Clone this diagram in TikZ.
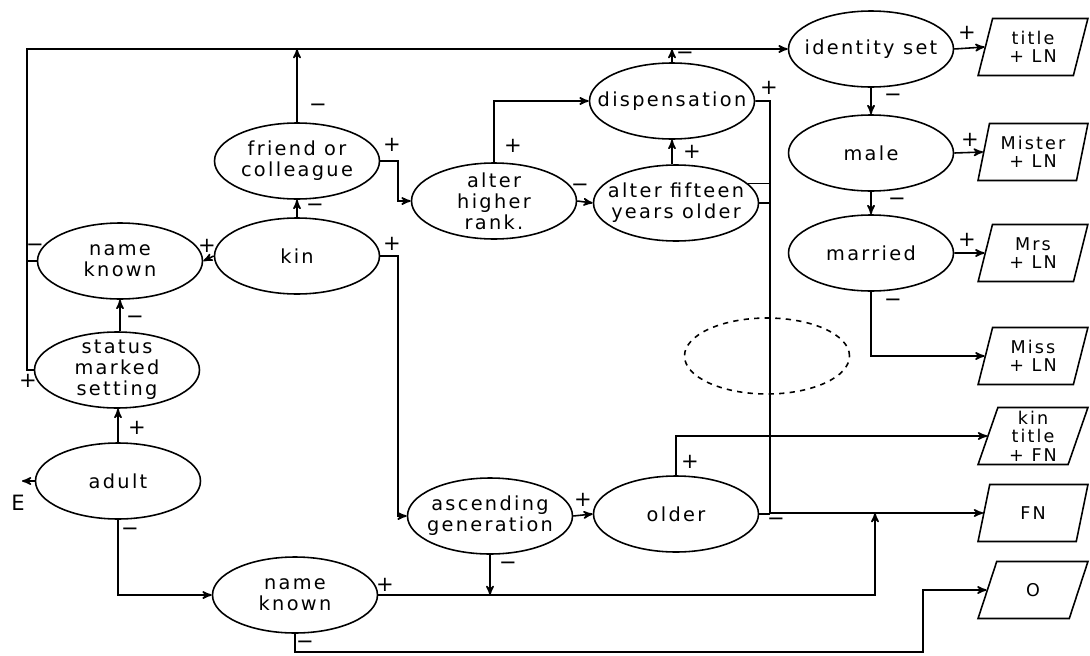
\documentclass[tikz,border=0pt]{standalone}
\usepackage{fontspec}
\newfontfamily\diafont[LetterSpace=12]{DejaVu Sans}
\usetikzlibrary{arrows,positioning,shapes}

\begin{document}
\begin{tikzpicture}[x=0.02cm, y=-0.02cm, line width=0.9pt, >=stealth',
  oval/.style={draw, ellipse, minimum width=3.3cm, minimum height=1.52cm,
    inner xsep=-14pt, inner ysep=-5pt, align=center,
    font=\diafont\fontsize{11}{12}\selectfont},
  slab/.style={draw, trapezium, trapezium left angle=75, trapezium right angle=105,
    trapezium stretches=true, minimum width=2.2cm, minimum height=1.14cm,
    inner sep=0pt, align=center, font=\diafont\fontsize{10}{10.5}\selectfont},
  sign/.style={inner sep=0pt, font=\diafont\fontsize{12}{12}\selectfont}]

  \useasboundingbox (0,0) rectangle (1090,656);

  % Decision ovals
  \node[oval] (idset) at (871,49) {identity set};
  \node[oval] (male) at (871,153) {male};
  \node[oval] (married) at (871,253) {married};
  \node[oval] (disp) at (672,101) {dispensation};
  \node[oval] (friend) at (297,161) {friend or\\colleague};
  \node[oval] (higher) at (494,201) {alter\\higher\\rank.};
  \node[oval] (fifteen) at (676,203) {alter fifteen\\years older};
  \node[oval] (kin) at (297,256) {kin};
  \node[oval] (nameA) at (120,261) {name\\known};
  \node[oval, dashed] (blank) at (767,356) {};
  \node[oval] (status) at (117,370) {status\\marked\\setting};
  \node[oval] (adult) at (118,481) {adult};
  \node[oval] (ascend) at (490,516) {ascending\\generation};
  \node[oval] (older) at (676,514) {older};
  \node[oval] (nameB) at (295,595) {name\\known};

  % Forms of address
  \foreach \n/\y/\t in {title/47/{title\\+ LN}, mister/152/{Mister\\+ LN},
      mrs/253/{Mrs\\+ LN}, miss/356/{Miss\\+ LN}, kintitle/436/{kin\\title\\+ FN},
      fn/513/FN, zero/590/O}
    \node[slab] (\n) at (1033,\y) {\t};

  \node[sign] (E) at (18,503) {E};
  \coordinate (entry) at (22,481);
  \coordinate (topleft) at (27,49);
  \coordinate (rbus) at (770,513);
  \coordinate (fnin) at (875,513);
  \coordinate (zerobend) at (923,652);

  % Connectors
  \draw[->] (status.west) -| (topleft) -- (idset.west);
  \draw (nameA.west) -- (nameA.west -| topleft);
  \draw[->] (friend.north) -- (friend.north |- topleft);
  \draw[->] (disp.north) -- (disp.north |- topleft);
  \draw[->] (kin.west) -- (nameA.east);
  \draw[->] (nameA.south |- status.north) -- (nameA.south);
  \draw[->] (adult.north) -- (adult.north |- status.south);
  \draw[->] (adult.west) -- (entry);
  \draw[->] (adult.south) |- (nameB.west);
  \draw[->] (kin.north) -- (friend.south);
  \draw[->] (friend.east) -- ++(18,0) |- (higher.west);
  \draw[->] (kin.east) -- ++(18,0) |- (ascend.west);
  \draw[->] (higher.north) |- (disp.west);
  \draw[->] (higher.east) -- (fifteen.west);
  \draw[->] (disp.south |- fifteen.north) -- (disp.south);
  \draw[->] (disp.east) -| (rbus) -- (fn.west);
  \draw (fifteen.east) -- (fifteen.east -| rbus);
  \draw (fifteen.15) -- (fifteen.15 -| rbus);
  \draw (older.east) -- (older.east -| rbus);
  \draw[->] (older.north) |- (kintitle.west);
  \draw[->] (ascend.east) -- (older.west);
  \draw[->] (ascend.south) -- (ascend.south |- nameB.east);
  \draw[->] (nameB.east) -| (fnin);
  \draw[->] (nameB.south) |- (zerobend) |- (zero.west);
  \draw[->] (idset.east) -- (title.west);
  \draw[->] (idset.south) -- (male.north);
  \draw[->] (male.east) -- (mister.west);
  \draw[->] (male.south) -- (married.north);
  \draw[->] (married.east) -- (mrs.west);
  \draw[->] (married.south) |- (miss.west);

  % Branch signs
  \foreach \i/\x/\y/\s in {1/318/108/−, 2/315/208/−, 3/207/246/+, 4/35/248/−,
      5/28/381/+, 6/135/320/−, 7/137/428/+, 8/130/532/−, 9/392/145/+,
      10/392/244/+, 11/513/146/+, 12/580/188/−, 13/692/152/+, 14/685/56/−,
      15/769/88/+, 16/690/462/+, 17/776/522/−, 18/583/500/+, 19/508/566/−,
      20/385/585/+, 21/305/645/−, 22/967/33/+, 23/893/98/−, 24/970/140/+,
      25/897/202/−, 26/967/240/+, 27/893/303/−}
    \node[sign] (s\i) at (\x,\y) {\s};
\end{tikzpicture}
\end{document}
